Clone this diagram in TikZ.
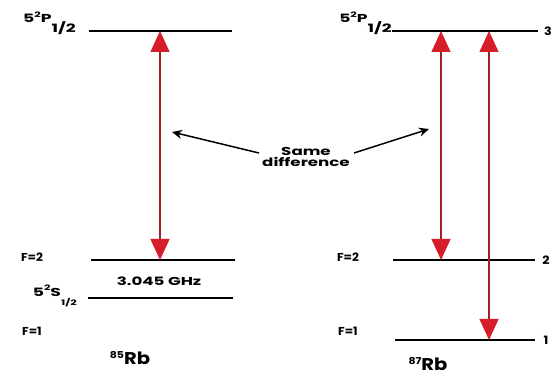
\documentclass[tikz,border=0pt]{standalone}
\usepackage{fontspec}
\setmainfont{Poppins}
\usepackage{graphicx}
\usetikzlibrary{arrows.meta}
\definecolor{tipred}{RGB}{214,30,42}
\definecolor{shaftred}{RGB}{160,35,35}
\newcommand{\sx}[2][1.45]{\scalebox{#1}[1]{#2}}
\newcommand{\lvlP}[2]{\sx[1.5]{5\raisebox{0.9ex}{\fontsize{7.5}{7.5}\selectfont 2}#1\raisebox{-1.5ex}{#2}}}
\begin{document}
\begin{tikzpicture}[x=1pt,y=-1pt,
  level/.style={line width=1.6pt},
  lbl/.style={font=\bfseries\fontsize{11.5}{11.5}\selectfont, inner sep=0pt},
  mid/.style={font=\bfseries\fontsize{11.5}{12.5}\selectfont, inner sep=0pt, align=center},
  iso/.style={font=\bfseries\fontsize{17}{17}\selectfont, inner sep=0pt},
  redarr/.style={draw=shaftred, line width=1.3pt,
    {Triangle[length=21pt,width=19pt,color=tipred]}-{Triangle[length=21pt,width=19pt,color=tipred]}},
  blkarr/.style={draw=black, line width=1.5pt, -{Stealth[length=10pt,width=9pt]}}
]
\useasboundingbox (0,0) rectangle (557,379);
% ---- left: 85Rb ----
\coordinate (LPa) at (89,31);  \coordinate (LPb) at (232,31);
\coordinate (LFa) at (91,260); \coordinate (LFb) at (235,260);
\coordinate (LSa) at (88,298); \coordinate (LSb) at (233,298);
\draw[level] (LPa) -- (LPb);
\draw[level] (LFa) -- (LFb);
\draw[level] (LSa) -- (LSb);
\node[lbl, anchor=east] (lpl) at (76,23) {\lvlP{P}{1/2}};
\node[lbl] (lf2) at (32,257) {\sx[1.05]{F=2}};
\node[mid] (ghz) at (159,281) {\sx[1.45]{3.045 GHz}};
\node[lbl, anchor=east] (lsl) at (77,296) {\lvlP{S}{\fontsize{7.5}{7.5}\selectfont 1/2}};
\node[lbl] (lf1) at (32,331) {\sx[1.05]{F=1}};
\node[iso] (rb85) at (130,358) {\sx[1.15]{\raisebox{0.7ex}{\fontsize{9.5}{9.5}\selectfont 85}Rb}};
\coordinate (Lt) at (160,31); \coordinate (Lb) at (160,260);
\draw[redarr] (Lb) -- (Lt);
% ---- right: 87Rb ----
\coordinate (RPa) at (392,31);  \coordinate (RPb) at (538,31);
\coordinate (RFa) at (393,260); \coordinate (RFb) at (535,260);
\coordinate (R1a) at (395,340); \coordinate (R1b) at (535,340);
\draw[level] (RPa) -- (RPb);
\draw[level] (RFa) -- (RFb);
\draw[level] (R1a) -- (R1b);
\node[lbl, anchor=east] (rpl) at (392,23) {\lvlP{P}{1/2}};
\node[lbl] (r3) at (548,31) {\sx[1.1]{3}};
\node[lbl] (r2) at (546,260) {\sx[1.1]{2}};
\node[lbl] (r1) at (546,340) {\sx[1.1]{1}};
\node[lbl] (rf2) at (348,257) {\sx[1.05]{F=2}};
\node[lbl] (rf1) at (348,331) {\sx[1.05]{F=1}};
\node[iso] (rb87) at (428,364) {\sx[1.15]{\raisebox{0.7ex}{\fontsize{9.5}{9.5}\selectfont 87}Rb}};
\coordinate (Rat) at (441,31); \coordinate (Rab) at (441,260);
\coordinate (Rbt) at (489,31); \coordinate (Rbb) at (489,340);
\draw[redarr] (Rab) -- (Rat);
\draw[redarr] (Rbb) -- (Rbt);
% ---- same difference ----
\node[mid] (sd) at (306,157) {\sx[1.45]{Same}\\[-1pt]\sx[1.45]{difference}};
\coordinate (sdl) at (259,153); \coordinate (sdr) at (354,153);
\coordinate (tl) at (172,132);  \coordinate (tr) at (429,129);
\draw[blkarr] (sdl) -- (tl);
\draw[blkarr] (sdr) -- (tr);
\end{tikzpicture}
\end{document}
